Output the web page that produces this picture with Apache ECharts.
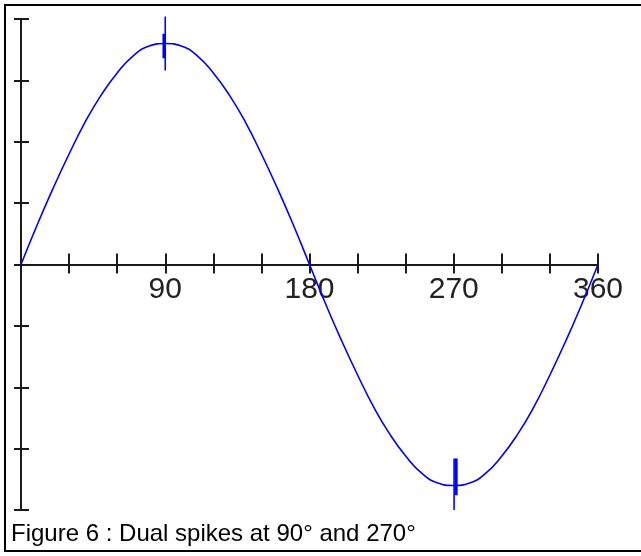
<!DOCTYPE html>
<html>
<head>
<meta charset="utf-8">
<script src="https://cdn.jsdelivr.net/npm/echarts@6/dist/echarts.min.js"></script>
<style>
html,body{margin:0;padding:0;background:#fff;}
#chart{width:641px;height:556px;}
</style>
</head>
<body>
<div id="chart"></div>
<script>
// Angles (degrees) of sampled points along the curve
const angles = [0,10,20,30,40,50,60,70,80,90,100,110,120,130,140,150,160,170,180,
                190,200,210,220,230,240,250,260,270,280,290,300,310,320,330,340,350,360];
// Curve values (axis spans -1 .. 1)
const curveValues = [0,0.16,0.31,0.45,0.58,0.69,0.78,0.85,0.89,0.90,0.89,0.85,0.78,0.69,0.58,0.45,0.31,0.16,0,
                     -0.16,-0.31,-0.45,-0.58,-0.69,-0.78,-0.85,-0.89,-0.90,-0.89,-0.85,-0.78,-0.69,-0.58,-0.45,-0.31,-0.16,0];
// Spike at 90 deg: thin full stroke and thicker core
const spike90Thin = [[90, 1.01], [90, 0.79]];
const spike90Core = [[89.2, 0.94], [89.2, 0.84]];
// Spike at 270 deg
const spike270Thin = [[270.2, -0.79], [270.2, -1.0]];
const spike270Core = [[271.5, -0.79], [271.5, -0.94]];
// Tick labels shown on the horizontal axis
const xLabels = [90, 180, 270, 360];
const caption = 'Figure 6 : Dual spikes at 90\u00b0 and 270\u00b0';

const W = 641, H = 556;
const G = {left: 21, right: 43, top: 19, bottom: 46};
const halfH = (H - G.top - G.bottom) / 2;
const plotW = W - G.left - G.right;

const chart = echarts.init(document.getElementById('chart'), null, {renderer: 'canvas'});
const axisColor = '#1a1a1a';
const blue = '#0000ff';

const curveData = angles.map((a, i) => [a, curveValues[i]]);

const lineStyle = {color: axisColor, width: 2};

const option = {
  animation: false,
  backgroundColor: '#ffffff',
  grid: Object.assign({containLabel: false}, G),
  xAxis: [
    {
      type: 'value', min: 0, max: 360, interval: 30, position: 'bottom', offset: -halfH,
      splitLine: {show: false},
      axisLine: {show: true, onZero: false, lineStyle: lineStyle},
      axisTick: {show: true, length: 9, lineStyle: lineStyle},
      axisLabel: {
        show: true, margin: 10, color: '#222',
        fontFamily: '"Liberation Sans", Arial, sans-serif', fontSize: 30,
        formatter: v => (xLabels.indexOf(v) >= 0 ? String(v) : '')
      }
    },
    {
      type: 'value', min: 0, max: 360, interval: 30, position: 'top', offset: -halfH,
      splitLine: {show: false},
      axisLine: {show: true, onZero: false, lineStyle: lineStyle},
      axisTick: {show: true, length: 11, lineStyle: lineStyle},
      axisLabel: {show: false}
    }
  ],
  yAxis: [
    {
      type: 'value', min: -1, max: 1, interval: 0.25, position: 'left',
      splitLine: {show: false}, axisLabel: {show: false},
      axisLine: {show: true, onZero: false, lineStyle: lineStyle},
      axisTick: {show: true, length: 7, lineStyle: lineStyle}
    },
    {
      type: 'value', min: -1, max: 1, interval: 0.25, position: 'right', offset: -plotW,
      splitLine: {show: false}, axisLabel: {show: false},
      axisLine: {show: true, onZero: false, lineStyle: lineStyle},
      axisTick: {show: true, length: 8, lineStyle: lineStyle}
    }
  ],
  series: [
    {type: 'line', data: curveData, smooth: true, symbol: 'none', clip: false,
     lineStyle: {color: blue, width: 1.6}, z: 3},
    {type: 'line', data: spike90Thin, symbol: 'none', clip: false, lineStyle: {color: blue, width: 1.6}, z: 4},
    {type: 'line', data: spike90Core, symbol: 'none', clip: false, lineStyle: {color: blue, width: 3}, z: 4},
    {type: 'line', data: spike270Thin, symbol: 'none', clip: false, lineStyle: {color: blue, width: 1.6}, z: 4},
    {type: 'line', data: spike270Core, symbol: 'none', clip: false, lineStyle: {color: blue, width: 3}, z: 4}
  ],
  graphic: [
    {type: 'rect', silent: true, z: 10,
     shape: {x: 5, y: 5, width: 700, height: 546},
     style: {fill: 'none', stroke: '#000', lineWidth: 2}},
    {type: 'text', silent: true, z: 10, left: 11, top: 522,
     style: {text: caption, fill: '#000', font: '24px "Liberation Sans", Arial, sans-serif'}}
  ]
};
chart.setOption(option);
</script>
</body>
</html>
